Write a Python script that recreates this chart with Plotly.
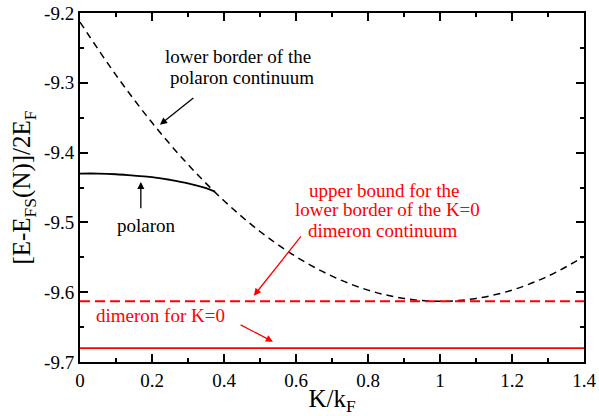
import plotly.graph_objects as go

# Datos
k_cont = [0.0, 0.1, 0.2, 0.3, 0.4, 0.5, 0.6, 0.7, 0.8, 0.9, 1.0, 1.1, 1.2, 1.3, 1.4]
e_cont = [-9.213, -9.289, -9.357, -9.417, -9.469, -9.513, -9.549, -9.577,
          -9.597, -9.609, -9.613, -9.609, -9.597, -9.577, -9.549]

k_pol = [0.0, 0.05, 0.1, 0.15, 0.2, 0.25, 0.3, 0.35, 0.375]
e_pol = [-9.430, -9.430, -9.431, -9.433, -9.435, -9.439, -9.444, -9.451, -9.456]

k_lines = [0.0, 1.4]
e_upper = [-9.613, -9.613]     # cota superior continuo dimerón
e_dimer = [-9.680, -9.680]     # dimerón K=0

x_ticks = [0, 0.2, 0.4, 0.6, 0.8, 1.0, 1.2, 1.4]
x_labels = ["0", "0.2", "0.4", "0.6", "0.8", "1", "1.2", "1.4"]
y_ticks = [-9.7, -9.6, -9.5, -9.4, -9.3, -9.2]
y_labels = ["-9.7", "-9.6", "-9.5", "-9.4", "-9.3", "-9.2"]   # guion normal, no signo menos

FONT = "Liberation Serif, Tinos, Times New Roman, Nimbus Roman, DejaVu Serif"
RED = "#ff0000"

fig = go.Figure()

fig.add_trace(go.Scatter(x=k_cont, y=e_cont, mode="lines", line_shape="spline",
                         line=dict(color="black", width=1.5, dash="7px,5px")))
fig.add_trace(go.Scatter(x=k_pol, y=e_pol, mode="lines", line_shape="spline",
                         line=dict(color="black", width=1.8)))
fig.add_trace(go.Scatter(x=k_lines, y=e_upper, mode="lines",
                         line=dict(color=RED, width=1.8, dash="10px,5px")))
fig.add_trace(go.Scatter(x=k_lines, y=e_dimer, mode="lines",
                         line=dict(color=RED, width=1.8)))

# Textos (una anotación por línea para controlar el interlineado)
def texto(x, y, t, color="black"):
    fig.add_annotation(x=x, y=y, text=t, showarrow=False, xref="x", yref="y",
                       font=dict(family=FONT, size=19, color=color))

def flecha(x0, y0, x1, y1, color="black"):
    fig.add_annotation(x=x1, y=y1, ax=x0, ay=y0, xref="x", yref="y", axref="x", ayref="y",
                       text="", showarrow=True, arrowhead=2, arrowsize=1.1,
                       arrowwidth=1.3, arrowcolor=color, standoff=0)

texto(0.440, -9.263, "lower border of the")
texto(0.450, -9.293, "polaron continuum")
flecha(0.319, -9.320, 0.222, -9.360)

texto(0.186, -9.504, "polaron")
flecha(0.169, -9.482, 0.169, -9.442)

texto(0.845, -9.454, "upper bound for the", RED)
texto(0.853, -9.482, "lower border of the K=0", RED)
texto(0.843, -9.511, "dimeron continuum", RED)
flecha(0.617, -9.518, 0.483, -9.605, RED)

texto(0.224, -9.634, "dimeron for K=0", RED)
flecha(0.442, -9.6456, 0.536, -9.671, RED)

eje = dict(showgrid=False, zeroline=False, showline=True, linecolor="black", linewidth=2,
           mirror="allticks", ticks="inside", ticklen=8, tickwidth=1.5, tickcolor="black",
           automargin=False, ticklabeloverflow="allow",
           tickfont=dict(family=FONT, size=19, color="black"))

fig.update_layout(
    width=599, height=416,
    plot_bgcolor="white", paper_bgcolor="white",
    showlegend=False,
    margin=dict(l=80, r=15, t=13, b=54),
    font=dict(family=FONT, color="black"),
    xaxis=dict(eje, range=[0, 1.4], tickvals=x_ticks, ticktext=x_labels,
               minor=dict(dtick=0.1, ticks="inside", ticklen=4, tickcolor="black"),
               title=dict(text="K/k<sub>F</sub>", font=dict(family=FONT, size=25), standoff=0)),
    yaxis=dict(eje, range=[-9.7, -9.2], tickvals=y_ticks, ticktext=y_labels,
               minor=dict(dtick=0.05, ticks="inside", ticklen=4, tickcolor="black"),
               title=dict(text="[E-E<sub>FS</sub>(N)]/2E<sub>F</sub>",
                          font=dict(family=FONT, size=25), standoff=6)),
)

# quitar el margen por defecto del body para que la figura empiece en (0,0)
fig.write_html("out.html", config={"displayModeBar": False},
               post_script="document.body.style.margin='0px';")
